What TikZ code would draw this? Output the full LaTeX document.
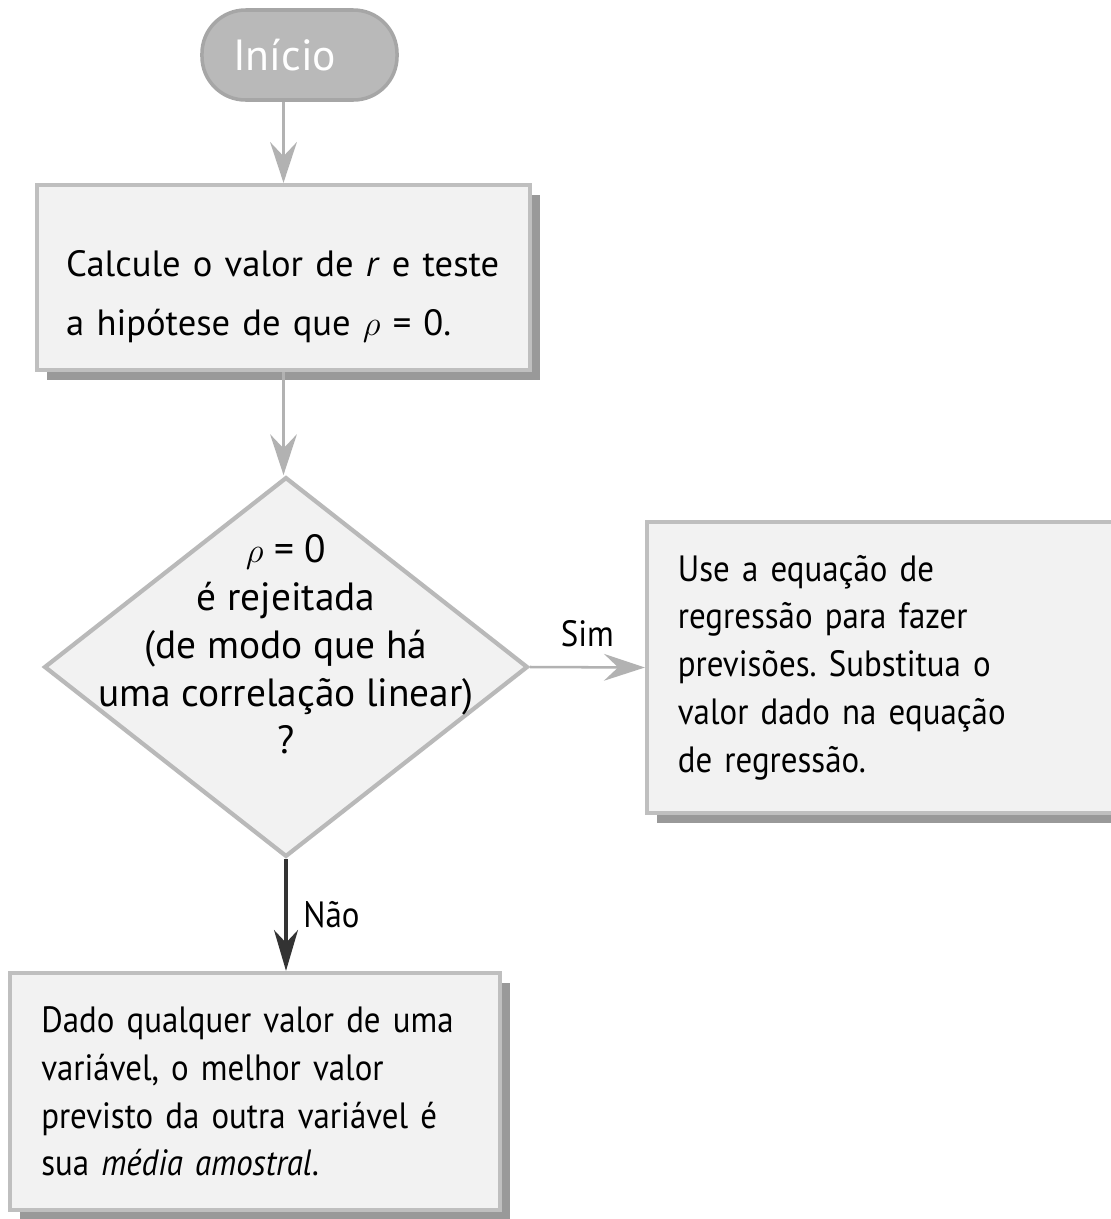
\documentclass[tikz,border=0pt]{standalone}
\usepackage{fontspec}
\setmainfont[FakeStretch=0.9]{PT Sans}
\newfontfamily\widefont{PT Sans}
\usetikzlibrary{arrows.meta,shapes.geometric,shadows}
\begin{document}
\frenchspacing
\begin{tikzpicture}[x=0.025cm,y=-0.025cm,
  txt/.style={font=\fontsize{26}{34}\selectfont, text=black},
  box/.style={txt, draw=gray!50, line width=3pt, fill=gray!10, align=left,
    drop shadow={shadow xshift=7pt, shadow yshift=-7pt, fill=gray!80, opacity=1}},
  startbox/.style={draw=gray!70, line width=2.5pt, fill=gray!55, rounded corners=31pt,
    text=white, font=\widefont\fontsize{31}{33}\selectfont},
  decbox/.style={diamond, draw=gray!55, line width=3pt, fill=gray!10,
    minimum width=344pt, minimum height=270pt, inner sep=0pt},
  garrow/.style={draw=gray!60, line width=1.8pt,
    -{Stealth[length=29pt, width=19pt, inset=10pt, fill=gray!60]}},
  darrow/.style={draw=black!80, line width=2.2pt,
    -{Stealth[length=29pt, width=17pt, inset=9pt]}},
  lbl/.style={font=\fontsize{26}{30}\selectfont, text=black}
]
\clip (0,0) rectangle (1111,1219);
\fill[white] (0,0) rectangle (1111,1219);

\node[startbox, minimum width=138.7pt, minimum height=64pt] (start) at (299.5,55) {Início\rule{21pt}{0pt}};

\node[box, minimum width=350.7pt, minimum height=131.6pt, text width=309pt,
  inner xsep=20pt, font=\widefont\fontsize{26}{42}\selectfont] (b1) at (283.5,277.5)
  {\rule{0pt}{46pt}Calcule o valor de \textit{r} e teste\\a hipótese de que $\rho$ = 0.};

\node[decbox] (d) at (286,667) {};
\node[txt, align=center, yshift=16pt, font=\widefont\fontsize{28}{34}\selectfont] (dt) at (d.center)
  {$\rho$ = 0\\é rejeitada\\(de modo que há\\uma correlação linear)\\?};

\node[box, minimum width=340pt, minimum height=207pt, text width=296pt,
  inner xsep=22pt] (b2) at (886,667.5)
  {Use a equação de\\regressão para fazer\\previsões. Substitua o\\valor dado na equação\\de regressão.};

\node[box, minimum width=348.5pt, minimum height=168.6pt, text width=304pt,
  inner xsep=22pt] (b3) at (255,1091.5)
  {Dado qualquer valor de uma\\variável, o melhor valor\\previsto da outra variável é\\sua \textit{média amostral}.};

\draw[garrow] (b1.north |- start.south) -- (b1.north);
\draw[garrow] (b1.south) -- (b1.south |- d.north);
\draw[garrow] (d.east) -- node[lbl, above=10pt] (sim) {Sim} (b2.west);
\draw[darrow] (d.south) -- node[lbl, right=8pt] (nao) {Não} (d.south |- b3.north);
\end{tikzpicture}
\end{document}
